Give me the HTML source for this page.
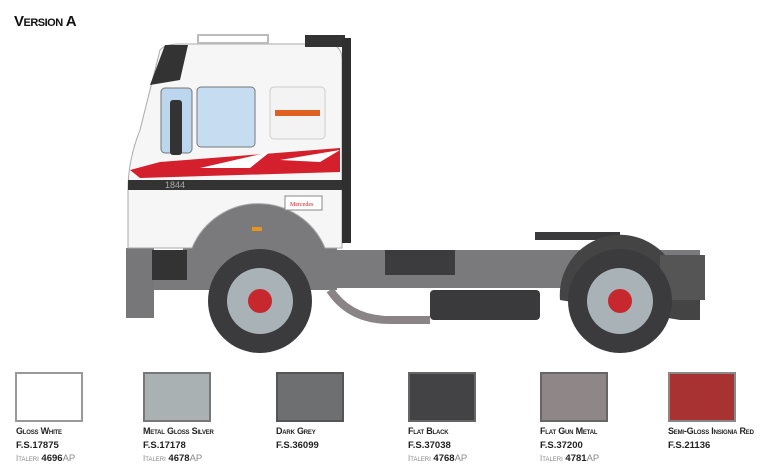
<!DOCTYPE html>
<html><head><meta charset="utf-8"><style>
body{margin:0;background:#fff;}
.w{position:relative;width:768px;height:472px;overflow:hidden;font-family:"Liberation Sans",sans-serif;}
.sw{position:absolute;top:372px;width:64px;height:46px;border:2px solid #999;}
.lb{position:absolute;font-weight:bold;color:#222;line-height:13.5px;}
.n{font-variant:small-caps;font-size:9px;letter-spacing:-0.2px}
.f{font-size:9.5px}
.i{font-size:9.5px}
.i span{font-weight:normal;color:#888;font-variant:small-caps;font-size:8px}
.i em{font-style:normal;font-weight:normal;color:#888}
</style></head><body><div class="w">
<div style="position:absolute;left:14px;top:13px;font-weight:bold;font-size:15px;font-variant:small-caps;letter-spacing:-0.5px;color:#111">Version A</div>
<svg width="768" height="472" style="position:absolute;left:0;top:0">
<!-- chassis -->
<rect x="330" y="250" width="370" height="38" fill="#7a7a7c"/>
<rect x="385" y="250" width="70" height="25" fill="#3c3c3e"/>
<rect x="430" y="290" width="110" height="30" rx="4" fill="#3a3a3c"/>
<path d="M330 290 q20 30 60 30 h40" stroke="#8a8486" stroke-width="8" fill="none"/>
<rect x="535" y="232" width="85" height="8" fill="#3a3a3c"/>
<path d="M560 300 a60 60 0 0 1 120 -10 l20 10 v20 h-20" fill="#444" />
<rect x="660" y="255" width="45" height="45" fill="#555"/>
<!-- front arch -->
<path d="M126 250 H183 A77 77 0 0 1 337 250 V290 H126 Z" fill="#7a7a7c"/>
<rect x="126" y="248" width="28" height="70" fill="#77777a"/>
<rect x="152" y="250" width="35" height="30" fill="#333"/>
<!-- cab -->
<path d="M160 50 Q165 44 180 44 H330 Q342 46 342 60 V248 H325 A72 72 0 0 0 192 248 H128 V190 Q128 160 140 130 Z" fill="#f6f6f6" stroke="#aaa"/>
<path d="M150 85 L165 45 H188 L180 80 Z" fill="#333"/>
<rect x="305" y="35" width="40" height="12" fill="#333"/>
<rect x="342" y="38" width="9" height="205" fill="#2f2f2f"/>
<rect x="198" y="35" width="70" height="8" fill="none" stroke="#bbb" stroke-width="2"/>
<rect x="161" y="88" width="31" height="65" rx="4" fill="#bcd6ee" stroke="#777"/>
<rect x="197" y="87" width="58" height="60" rx="4" fill="#c5dcf1" stroke="#777"/>
<rect x="270" y="87" width="55" height="52" rx="4" fill="#f3f3f3" stroke="#ccc"/>
<rect x="275" y="110" width="45" height="6" fill="#e06020"/>
<rect x="170" y="100" width="12" height="55" rx="3" fill="#333"/>
<path d="M130 170 L160 162 L340 148 V172 L140 178 Z" fill="#d4202c"/>
<path d="M200 168 L270 152 L250 168 Z M280 160 L340 150 L320 162 Z" fill="#fff"/>
<rect x="128" y="180" width="214" height="10" fill="#333"/>
<text x="165" y="188" font-size="9" fill="#aaa" font-family="Liberation Sans">1844</text>
<rect x="285" y="196" width="37" height="14" fill="#fff" stroke="#888"/>
<text x="290" y="206" font-size="6" fill="#c22" font-family="Liberation Serif">Mercedes</text>
<rect x="252" y="227" width="10" height="4" fill="#e8931c"/>
<!-- wheels -->
<g>
<circle cx="260" cy="301" r="52" fill="#3b3b3d"/><circle cx="260" cy="301" r="33" fill="#a9b2b6"/><circle cx="260" cy="301" r="12" fill="#c7282e"/>
<circle cx="620" cy="301" r="52" fill="#3b3b3d"/><circle cx="620" cy="301" r="33" fill="#a9b2b6"/><circle cx="620" cy="301" r="12" fill="#c7282e"/>
</g>
</svg>
<div class="sw" style="left:15px;background:#fff"></div>
<div class="sw" style="left:143px;background:#a9b1b3;border-color:#777"></div>
<div class="sw" style="left:276px;background:#6e6f71;border-color:#555"></div>
<div class="sw" style="left:408px;background:#434345;border-color:#666"></div>
<div class="sw" style="left:540px;background:#8f8687;border-color:#666"></div>
<div class="sw" style="left:668px;background:#a83232;border-color:#888"></div>
<div class="lb" style="left:16px;top:425px"><div class="n">Gloss White</div><div class="f">F.S.17875</div><div class="i"><span>Italeri</span> 4696<em>AP</em></div></div>
<div class="lb" style="left:143px;top:425px"><div class="n">Metal Gloss Silver</div><div class="f">F.S.17178</div><div class="i"><span>Italeri</span> 4678<em>AP</em></div></div>
<div class="lb" style="left:276px;top:425px"><div class="n">Dark Grey</div><div class="f">F.S.36099</div></div>
<div class="lb" style="left:408px;top:425px"><div class="n">Flat Black</div><div class="f">F.S.37038</div><div class="i"><span>Italeri</span> 4768<em>AP</em></div></div>
<div class="lb" style="left:540px;top:425px"><div class="n">Flat Gun Metal</div><div class="f">F.S.37200</div><div class="i"><span>Italeri</span> 4781<em>AP</em></div></div>
<div class="lb" style="left:668px;top:425px"><div class="n">Semi-Gloss Insignia Red</div><div class="f">F.S.21136</div></div>
</div></body></html>
